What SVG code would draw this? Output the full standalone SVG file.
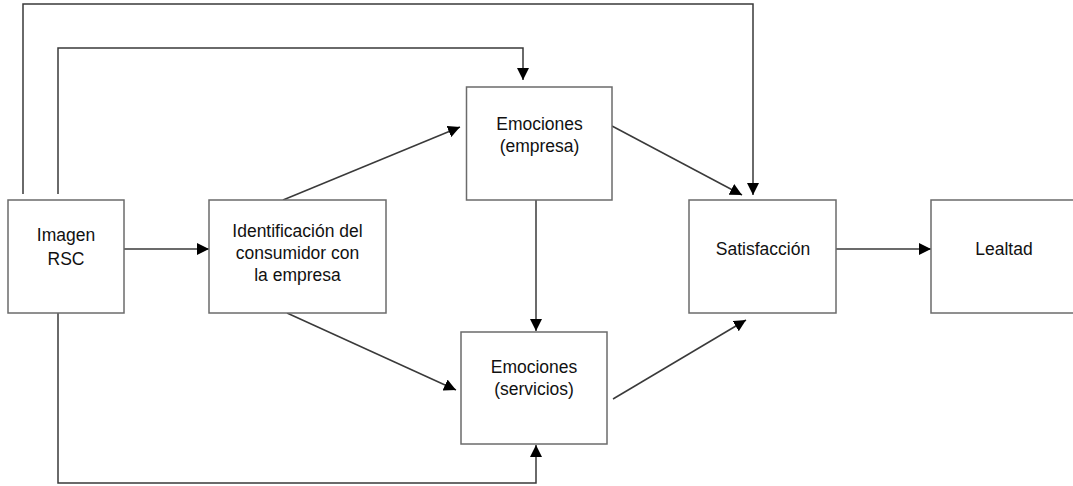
<svg xmlns="http://www.w3.org/2000/svg" width="1073" height="486" viewBox="0 0 1073 486">
  <defs>
    <style>
      .box { fill: #ffffff; stroke: #6b6b6b; stroke-width: 1.5; }
      .lbl { font-family: "Liberation Sans", Arial, sans-serif; font-size: 17.5px; fill: #111111; text-anchor: middle; }
      .wire { fill: none; stroke: #3a3a3a; stroke-width: 1.5; }
      .arr { marker-end: url(#head); }
    </style>
    <marker id="head" markerUnits="userSpaceOnUse" markerWidth="13" markerHeight="12" refX="12" refY="6" orient="auto">
      <path d="M0,0 L12,6 L0,12 Z" fill="#000000"/>
    </marker>
  </defs>
  <rect width="1073" height="486" fill="#ffffff"/>

  <g id="connectors">
    <!-- feedback routes from Imagen RSC -->
    <polyline class="wire arr" points="23,194 23,4 753,4 753,195"/>
    <polyline class="wire arr" points="58,194 58,48 523,48 523,80"/>
    <polyline class="wire arr" points="58,313 58,483 536,483 536,445"/>
    <!-- main chain -->
    <line class="wire arr" x1="124" y1="249" x2="209" y2="249"/>
    <line class="wire arr" x1="283" y1="200" x2="460" y2="127"/>
    <line class="wire arr" x1="287" y1="313" x2="456" y2="390"/>
    <line class="wire arr" x1="536" y1="200" x2="536" y2="331"/>
    <line class="wire arr" x1="612" y1="126" x2="742" y2="195"/>
    <line class="wire arr" x1="613" y1="399" x2="746" y2="320"/>
    <line class="wire arr" x1="836" y1="249" x2="931" y2="249"/>
  </g>

  <g id="imagen-rsc">
    <rect class="box" x="8" y="200" width="116" height="113"/>
    <text class="lbl" x="66" y="241">Imagen</text>
    <text class="lbl" x="66" y="265">RSC</text>
  </g>

  <g id="identificacion">
    <rect class="box" x="209" y="200" width="177" height="113"/>
    <text class="lbl" x="297.5" y="237">Identificación del</text>
    <text class="lbl" x="297.5" y="259">consumidor con</text>
    <text class="lbl" x="297.5" y="281">la empresa</text>
  </g>

  <g id="emociones-empresa">
    <rect class="box" x="466.5" y="87" width="145.5" height="113"/>
    <text class="lbl" x="539.5" y="130">Emociones</text>
    <text class="lbl" x="539.5" y="152">(empresa)</text>
  </g>

  <g id="emociones-servicios">
    <rect class="box" x="461" y="332" width="146" height="112"/>
    <text class="lbl" x="534" y="373">Emociones</text>
    <text class="lbl" x="534" y="395">(servicios)</text>
  </g>

  <g id="satisfaccion">
    <rect class="box" x="689" y="200" width="147" height="113"/>
    <text class="lbl" x="763" y="255">Satisfacción</text>
  </g>

  <g id="lealtad">
    <rect class="box" x="931" y="200" width="145" height="113"/>
    <text class="lbl" x="1004" y="255">Lealtad</text>
  </g>
</svg>
